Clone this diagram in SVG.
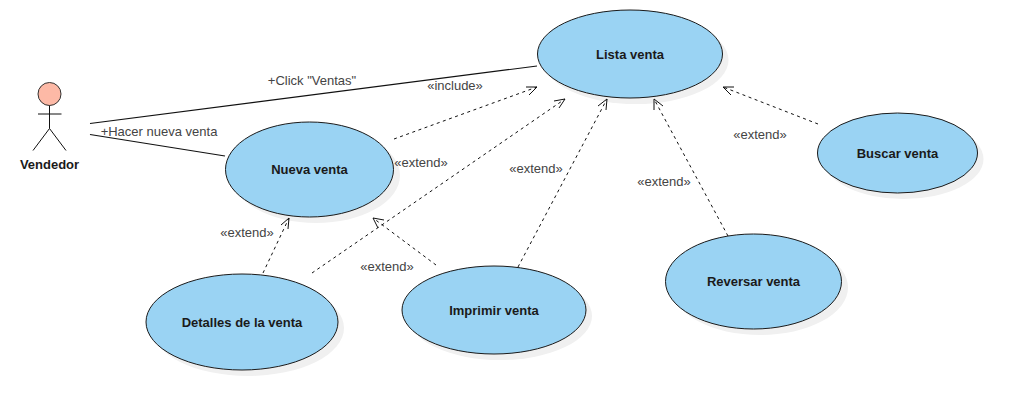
<svg xmlns="http://www.w3.org/2000/svg" width="1017" height="410" viewBox="0 0 1017 410">
<style>
.shadow{fill:#f0f0f0;stroke:none}
.uc{fill:#9ad3f3;stroke:#1a1a1a;stroke-width:1}
.t{font-family:"Liberation Sans",Arial,sans-serif;font-size:13px;font-weight:bold;fill:#1a1a1a;text-anchor:middle}
.l{font-family:"Liberation Sans",Arial,sans-serif;font-size:13px;fill:#444;text-anchor:middle}
.a{fill:none;stroke:#111;stroke-width:1.2}
.d{fill:none;stroke:#111;stroke-width:1;stroke-dasharray:3 3.5}
.h{fill:none;stroke:#111;stroke-width:1}
</style>
<rect width="1017" height="410" fill="#fff"/>
<g id="actor-vendedor">
<circle cx="49.500" cy="94" r="11.500" fill="#fdb9a6" stroke="#333"/>
<path d="M49.500 105.500V128.500M38 114H61.500M49.500 128.500L33 150.500M49.500 128.500L66 150.500" fill="none" stroke="#111"/>
<text class="t" x="49.500" y="169">Vendedor</text>
</g>
<g id="uc-lista-venta"><ellipse class="shadow" cx="636" cy="60" rx="92.500" ry="44"/><ellipse class="uc" cx="630" cy="54" rx="92.500" ry="44"/><text class="t" x="630" y="59">Lista venta</text></g>
<g id="uc-nueva-venta"><ellipse class="shadow" cx="316" cy="175.500" rx="84" ry="47.500"/><ellipse class="uc" cx="309.500" cy="169.500" rx="84" ry="47.500"/><text class="t" x="309.500" y="174">Nueva venta</text></g>
<g id="uc-buscar-venta"><ellipse class="shadow" cx="903.500" cy="159" rx="80" ry="40"/><ellipse class="uc" cx="897.500" cy="153" rx="80" ry="40"/><text class="t" x="897.500" y="158">Buscar venta</text></g>
<g id="uc-reversar-venta"><ellipse class="shadow" cx="760" cy="287.500" rx="88" ry="47.500"/><ellipse class="uc" cx="753.500" cy="281.500" rx="88" ry="47.500"/><text class="t" x="753.500" y="286">Reversar venta</text></g>
<g id="uc-imprimir-venta"><ellipse class="shadow" cx="500" cy="316" rx="92" ry="44"/><ellipse class="uc" cx="494" cy="310" rx="92" ry="44"/><text class="t" x="494" y="315">Imprimir venta</text></g>
<g id="uc-detalles-venta"><ellipse class="shadow" cx="248" cy="328" rx="96" ry="48"/><ellipse class="uc" cx="242" cy="322" rx="96" ry="48"/><text class="t" x="242" y="327">Detalles de la venta</text></g>
<g id="connectors">
<path class="a" d="M90 123.500L537 66"/>
<path class="a" d="M90 134.500L225 156"/>
<path class="d" d="M394 139L537 87"/><path class="h" d="M526 87L537 87L529 95"/>
<path class="d" d="M312 273L565 99"/><path class="h" d="M554 101L565 99L559 108"/>
<path class="d" d="M518 267L607 99"/><path class="h" d="M598 106L607 99L606 110"/>
<path class="d" d="M728 236L654 99"/><path class="h" d="M654 110L654 99L663 106"/>
<path class="d" d="M818 124L723 87"/><path class="h" d="M734 87L723 87L731 95"/>
<path class="d" d="M263 273L289 218"/><path class="h" d="M281 225L289 218L288 229"/>
<path class="d" d="M436 265L373 218"/><path class="h" d="M378 228L373 218L384 220"/>
<text class="l" x="312" y="85">+Click "Ventas"</text>
<text class="l" x="159" y="136">+Hacer nueva venta</text>
<text class="l" x="455" y="90">«include»</text>
<text class="l" x="421" y="167">«extend»</text>
<text class="l" x="536" y="173">«extend»</text>
<text class="l" x="664" y="186">«extend»</text>
<text class="l" x="760" y="139">«extend»</text>
<text class="l" x="247" y="237">«extend»</text>
<text class="l" x="387" y="271">«extend»</text>
</g>
</svg>
